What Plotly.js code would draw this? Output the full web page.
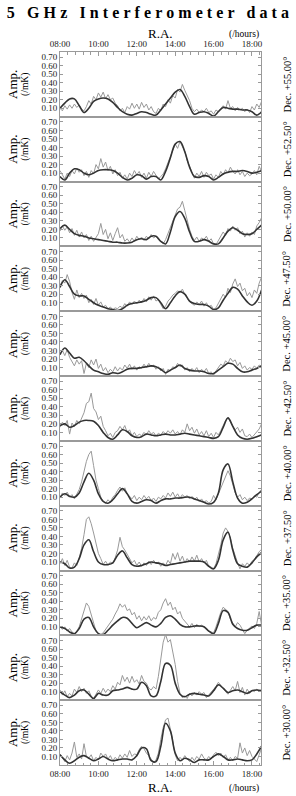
<!DOCTYPE html>
<html>
<head>
<meta charset="utf-8">
<script src="https://cdn.plot.ly/plotly-3.0.1.min.js"></script>
<style>
html,body{margin:0;padding:0;background:#fff;}
#chart{width:296px;height:796px;}
.gtitle{letter-spacing:4.1px;}
</style>
</head>
<body>
<div id="chart"></div>
<script>
// Sample times (hours of R.A.)
const tGray = [
8,8.125,8.25,8.375,8.5,8.625,8.75,8.875,
9,9.125,9.25,9.375,9.5,9.625,9.75,9.875,
10,10.125,10.25,10.375,10.5,10.625,10.75,10.875,
11,11.125,11.25,11.375,11.5,11.625,11.75,11.875,
12,12.125,12.25,12.375,12.5,12.625,12.75,12.875,
13,13.125,13.25,13.375,13.5,13.625,13.75,13.875,
14,14.125,14.25,14.375,14.5,14.625,14.75,14.875,
15,15.125,15.25,15.375,15.5,15.625,15.75,15.875,
16,16.125,16.25,16.375,16.5,16.625,16.75,16.875,
17,17.125,17.25,17.375,17.5,17.625,17.75,17.875,
18,18.125,18.25,18.375,18.5];
const tModel = [
8,8.25,8.5,8.75, 9,9.25,9.5,9.75, 10,10.25,10.5,10.75,
11,11.25,11.5,11.75, 12,12.25,12.5,12.75, 13,13.25,13.5,13.75,
14,14.25,14.5,14.75, 15,15.25,15.5,15.75, 16,16.25,16.5,16.75,
17,17.25,17.5,17.75, 18,18.25,18.5];

const raTickVals = [8,10,12,14,16,18];
const raTickText = ['08:00','10:00','12:00','14:00','16:00','18:00'];
const ampTickVals = [0.1,0.2,0.3,0.4,0.5,0.6,0.7];
const decLabels = ['Dec. +55.00°','Dec. +52.50°','Dec. +50.00°','Dec. +47.50°','Dec. +45.00°',
  'Dec. +42.50°','Dec. +40.00°','Dec. +37.50°','Dec. +35.00°','Dec. +32.50°','Dec. +30.00°'];

// Measured (grey) and model (dark) amplitudes, /mK
const data550 = [
0.10,0.07,0.13,0.09,0.14,0.10,0.15,0.11,
0.14,0.09,0.07,0.12,0.19,0.15,0.24,0.20,
0.28,0.23,0.29,0.21,0.26,0.20,0.22,0.16,
0.13,0.07,0.10,0.05,0.12,0.09,0.16,0.10,
0.15,0.09,0.17,0.11,0.15,0.08,0.12,0.06,
0.04,0.10,0.07,0.15,0.12,0.20,0.16,0.25,
0.22,0.32,0.29,0.38,0.31,0.25,0.19,0.10,
0.06,0.09,0.05,0.08,0.06,0.10,0.05,0.07,
0.03,0.08,0.06,0.10,0.13,0.09,0.19,0.10,
0.12,0.07,0.11,0.08,0.10,0.06,0.09,0.05,
0.12,0.08,0.15,0.11,0.18];
const model550 = [
0.10,0.16,0.21,0.21, 0.13,0.05,0.10,0.18, 0.21,0.22,0.21,0.17,
0.11,0.06,0.03,0.02, 0.04,0.06,0.05,0.03, 0.02,0.08,0.15,0.22,
0.29,0.32,0.24,0.12, 0.03,0.05,0.06,0.04, 0.01,0.06,0.11,0.10,
0.09,0.09,0.08,0.08, 0.06,0.02,0.06];

const data525 = [
0.13,0.07,0.03,0.10,0.06,0.13,0.09,0.16,
0.11,0.14,0.07,0.12,0.05,0.13,0.09,0.20,
0.15,0.27,0.17,0.23,0.13,0.18,0.09,0.14,
0.07,0.11,0.04,0.08,0.03,0.10,0.06,0.13,
0.08,0.12,0.05,0.10,0.04,0.11,0.06,0.12,
0.07,0.03,0.06,0.09,0.15,0.22,0.30,0.38,
0.44,0.39,0.47,0.41,0.36,0.25,0.18,0.10,
0.04,0.10,0.06,0.12,0.05,0.11,0.07,0.09,
0.03,0.08,0.05,0.12,0.08,0.14,0.10,0.17,
0.12,0.09,0.14,0.08,0.12,0.06,0.10,0.07,
0.09,0.13,0.08,0.18,0.12];
const model525 = [
0.06,0.02,0.10,0.15, 0.14,0.10,0.08,0.10, 0.13,0.14,0.14,0.13,
0.10,0.05,0.02,0.04, 0.08,0.07,0.03,0.06, 0.06,0.02,0.12,0.28,
0.44,0.47,0.35,0.17, 0.06,0.05,0.07,0.06, 0.02,0.05,0.09,0.11,
0.12,0.12,0.13,0.12, 0.10,0.11,0.13];

const data500 = [
0.18,0.24,0.19,0.23,0.16,0.21,0.13,0.19,
0.11,0.17,0.10,0.14,0.07,0.12,0.06,0.10,
0.15,0.27,0.14,0.20,0.09,0.16,0.07,0.15,
0.22,0.10,0.14,0.06,0.09,0.05,0.10,0.06,
0.12,0.08,0.11,0.07,0.12,0.09,0.14,0.10,
0.12,0.08,0.05,0.03,0.08,0.15,0.22,0.30,
0.37,0.44,0.46,0.53,0.42,0.30,0.20,0.12,
0.07,0.11,0.06,0.10,0.08,0.12,0.06,0.09,
0.03,0.02,0.07,0.12,0.17,0.13,0.21,0.18,
0.24,0.19,0.22,0.15,0.18,0.11,0.16,0.12,
0.17,0.14,0.24,0.28,0.34];
const model500 = [
0.21,0.25,0.20,0.15, 0.13,0.12,0.10,0.09, 0.08,0.07,0.06,0.05,
0.05,0.04,0.04,0.05, 0.08,0.09,0.08,0.12, 0.12,0.06,0.03,0.17,
0.35,0.41,0.33,0.17, 0.06,0.06,0.08,0.06, 0.03,0.03,0.10,0.18,
0.22,0.19,0.15,0.14, 0.15,0.20,0.25];

const data475 = [
0.30,0.36,0.33,0.43,0.35,0.22,0.14,0.25,
0.16,0.21,0.15,0.19,0.10,0.14,0.08,0.15,
0.07,0.11,0.05,0.07,0.03,0.05,0.02,0.04,
0.03,0.06,0.04,0.09,0.06,0.11,0.08,0.12,
0.09,0.13,0.10,0.15,0.11,0.17,0.13,0.18,
0.12,0.14,0.08,0.03,0.06,0.12,0.15,0.19,
0.21,0.24,0.22,0.26,0.20,0.15,0.11,0.09,
0.07,0.11,0.08,0.12,0.06,0.10,0.05,0.07,
0.02,0.04,0.09,0.14,0.20,0.16,0.27,0.22,
0.32,0.38,0.29,0.33,0.24,0.27,0.18,0.22,
0.16,0.25,0.21,0.33,0.40];
const model475 = [
0.28,0.37,0.29,0.20, 0.18,0.18,0.14,0.10, 0.07,0.05,0.03,0.02,
0.01,0.03,0.07,0.09, 0.10,0.11,0.13,0.16, 0.16,0.10,0.03,0.10,
0.18,0.23,0.20,0.12, 0.09,0.08,0.08,0.06, 0.02,0.04,0.13,0.21,
0.28,0.26,0.18,0.11, 0.07,0.12,0.25];

const data450 = [
0.26,0.30,0.24,0.31,0.22,0.17,0.12,0.19,
0.14,0.18,0.03,0.15,0.10,0.19,0.13,0.20,
0.09,0.14,0.06,0.10,0.04,0.08,0.05,0.11,
0.06,0.10,0.07,0.13,0.09,0.14,0.08,0.12,
0.07,0.11,0.09,0.14,0.10,0.15,0.11,0.13,
0.08,0.11,0.06,0.09,0.02,0.08,0.06,0.11,
0.09,0.15,0.11,0.13,0.07,0.10,0.05,0.09,
0.06,0.10,0.04,0.08,0.05,0.09,0.03,0.05,
0.01,0.06,0.10,0.14,0.12,0.18,0.15,0.21,
0.17,0.19,0.12,0.16,0.09,0.12,0.07,0.10,
0.08,0.12,0.09,0.13,0.11];
const model450 = [
0.25,0.33,0.27,0.21, 0.22,0.18,0.12,0.07, 0.05,0.03,0.02,0.04,
0.03,0.05,0.08,0.09, 0.09,0.10,0.11,0.12, 0.11,0.08,0.04,0.07,
0.10,0.13,0.09,0.07, 0.06,0.06,0.05,0.03, 0.03,0.07,0.11,0.15,
0.14,0.09,0.05,0.05, 0.07,0.09,0.12];

const data425 = [
0.16,0.22,0.18,0.24,0.08,0.21,0.17,0.24,
0.20,0.27,0.33,0.44,0.46,0.56,0.38,0.34,
0.25,0.29,0.17,0.12,0.06,0.09,0.04,0.10,
0.12,0.17,0.13,0.18,0.10,0.13,0.06,0.10,
0.05,0.08,0.06,0.10,0.07,0.12,0.08,0.10,
0.06,0.09,0.07,0.11,0.08,0.12,0.09,0.13,
0.08,0.11,0.07,0.13,0.10,0.20,0.12,0.16,
0.09,0.14,0.07,0.11,0.06,0.12,0.05,0.09,
0.04,0.10,0.07,0.12,0.18,0.24,0.27,0.22,
0.17,0.13,0.16,0.10,0.14,0.06,0.05,0.08,
0.04,0.07,0.10,0.14,0.20];
const model425 = [
0.18,0.20,0.16,0.18, 0.22,0.24,0.24,0.23, 0.18,0.10,0.04,0.02,
0.07,0.13,0.11,0.06, 0.04,0.05,0.08,0.07, 0.06,0.07,0.08,0.07,
0.07,0.08,0.09,0.08, 0.07,0.06,0.05,0.04, 0.03,0.05,0.16,0.27,
0.17,0.07,0.03,0.02, 0.03,0.05,0.07];

const data400 = [
0.09,0.15,0.12,0.16,0.10,0.13,0.08,0.14,
0.19,0.28,0.40,0.52,0.60,0.64,0.47,0.30,
0.20,0.10,0.05,0.03,0.07,0.04,0.10,0.13,
0.18,0.22,0.17,0.21,0.14,0.11,0.08,0.12,
0.06,0.10,0.07,0.12,0.08,0.11,0.06,0.09,
0.05,0.10,0.08,0.12,0.09,0.15,0.11,0.16,
0.10,0.14,0.09,0.13,0.10,0.12,0.08,0.11,
0.07,0.10,0.05,0.08,0.04,0.06,0.03,0.05,
0.12,0.07,0.14,0.22,0.29,0.36,0.41,0.35,
0.26,0.15,0.10,0.13,0.07,0.10,0.06,0.09,
0.08,0.12,0.10,0.16,0.19];
const model400 = [
0.10,0.14,0.11,0.10, 0.15,0.28,0.38,0.30, 0.14,0.05,0.03,0.07,
0.14,0.20,0.14,0.05, 0.03,0.05,0.07,0.06, 0.03,0.06,0.08,0.08,
0.09,0.09,0.10,0.10, 0.08,0.06,0.04,0.02, 0.04,0.15,0.42,0.49,
0.28,0.09,0.03,0.04, 0.08,0.13,0.17];

const data375 = [
0.08,0.14,0.06,0.12,0.04,0.03,0.09,0.06,
0.15,0.26,0.42,0.60,0.63,0.55,0.44,0.31,
0.20,0.14,0.07,0.11,0.06,0.10,0.08,0.15,
0.24,0.39,0.28,0.24,0.19,0.14,0.09,0.12,
0.06,0.10,0.05,0.09,0.06,0.11,0.07,0.12,
0.08,0.10,0.05,0.09,0.06,0.12,0.08,0.20,
0.13,0.21,0.11,0.17,0.09,0.14,0.10,0.16,
0.11,0.18,0.10,0.14,0.09,0.12,0.05,0.04,
0.02,0.08,0.18,0.30,0.44,0.50,0.46,0.38,
0.26,0.16,0.09,0.02,0.08,0.05,0.09,0.06,
0.11,0.13,0.18,0.22,0.25];
const model375 = [
0.10,0.08,0.03,0.04, 0.14,0.30,0.36,0.22, 0.10,0.07,0.07,0.09,
0.18,0.23,0.15,0.07, 0.05,0.06,0.08,0.10, 0.09,0.08,0.06,0.07,
0.08,0.09,0.10,0.11, 0.11,0.11,0.10,0.05, 0.02,0.12,0.36,0.45,
0.24,0.08,0.05,0.04, 0.09,0.16,0.21];

const data350 = [
0.11,0.07,0.10,0.05,0.08,0.04,0.02,0.05,
0.10,0.19,0.30,0.38,0.34,0.24,0.13,0.05,
0.02,0.01,0.03,0.07,0.10,0.14,0.19,0.25,
0.30,0.37,0.33,0.36,0.29,0.31,0.24,0.27,
0.19,0.23,0.17,0.22,0.18,0.23,0.17,0.21,
0.19,0.27,0.30,0.38,0.43,0.35,0.39,0.30,
0.33,0.25,0.28,0.20,0.17,0.13,0.10,0.14,
0.09,0.13,0.10,0.12,0.09,0.07,0.05,0.04,
0.03,0.10,0.20,0.27,0.33,0.31,0.28,0.19,
0.14,0.10,0.15,0.12,0.07,0.02,0.06,0.09,
0.11,0.08,0.14,0.28,0.12];
const model350 = [
0.10,0.08,0.04,0.02, 0.08,0.19,0.21,0.10, 0.02,0.01,0.06,0.12,
0.17,0.21,0.20,0.14, 0.09,0.12,0.15,0.12, 0.10,0.14,0.21,0.23,
0.19,0.13,0.10,0.10, 0.11,0.11,0.10,0.05, 0.02,0.14,0.29,0.27,
0.13,0.08,0.06,0.06, 0.09,0.12,0.12];

const data325 = [
0.12,0.06,0.11,0.04,0.08,0.05,0.13,0.09,
0.16,0.10,0.14,0.08,0.11,0.05,0.02,0.07,
0.12,0.08,0.14,0.09,0.13,0.10,0.17,0.13,
0.21,0.18,0.29,0.22,0.27,0.20,0.28,0.21,
0.24,0.19,0.29,0.22,0.20,0.14,0.12,0.16,
0.13,0.28,0.50,0.68,0.77,0.68,0.71,0.56,
0.42,0.22,0.08,0.03,0.05,0.02,0.08,0.05,
0.09,0.06,0.10,0.07,0.09,0.03,0.06,0.09,
0.13,0.16,0.21,0.17,0.14,0.10,0.07,0.12,
0.16,0.11,0.22,0.09,0.15,0.06,0.13,0.08,
0.12,0.10,0.13,0.11,0.12];
const model325 = [
0.10,0.06,0.03,0.06, 0.11,0.12,0.07,0.02, 0.08,0.06,0.06,0.11,
0.12,0.13,0.15,0.13, 0.13,0.21,0.17,0.05, 0.05,0.22,0.43,0.41,
0.20,0.07,0.04,0.07, 0.08,0.07,0.06,0.05, 0.11,0.18,0.14,0.09,
0.11,0.12,0.10,0.08, 0.11,0.12,0.11];

const data300 = [
0.13,0.08,0.04,0.11,0.06,0.14,0.27,0.09,
0.13,0.07,0.25,0.10,0.08,0.12,0.05,0.09,
0.06,0.14,0.10,0.13,0.07,0.11,0.05,0.09,
0.06,0.12,0.08,0.13,0.09,0.17,0.10,0.13,
0.12,0.18,0.22,0.19,0.14,0.11,0.07,0.03,
0.06,0.14,0.30,0.44,0.53,0.55,0.42,0.25,
0.12,0.05,0.09,0.06,0.11,0.07,0.04,0.09,
0.05,0.10,0.07,0.13,0.08,0.06,0.10,0.07,
0.12,0.15,0.11,0.14,0.09,0.12,0.06,0.09,
0.05,0.10,0.08,0.26,0.14,0.20,0.11,0.17,
0.10,0.07,0.04,0.12,0.20];
const model300 = [
0.12,0.06,0.02,0.05, 0.09,0.11,0.08,0.05, 0.07,0.10,0.07,0.05,
0.06,0.07,0.07,0.06, 0.11,0.20,0.19,0.05, 0.04,0.22,0.49,0.40,
0.14,0.05,0.08,0.06, 0.03,0.06,0.06,0.06, 0.10,0.13,0.10,0.06,
0.06,0.07,0.06,0.05, 0.06,0.13,0.22];

const measured = [data550,data525,data500,data475,data450,data425,data400,data375,data350,data325,data300];
const models = [model550,model525,model500,model475,model450,model425,model400,model375,model350,model325,model300];

const N = decLabels.length;
const L = 60, R = 35, T = 52, B = 31, W = 296, H = 796;
const pw = W - L - R, ph = H - T - B;
const px = v => (v - L) / pw;
const py = v => (H - B - v) / ph;
const serif = 'Liberation Serif, Times New Roman, serif';
const axisColor = '#9a9a9a';

const traces = [];
const layout = {
  width: W, height: H,
  margin: {l: L, r: R, t: T, b: B, pad: 0},
  paper_bgcolor: '#fff', plot_bgcolor: '#fff',
  showlegend: false,
  title: {text: '5 GHz Interferometer data', font: {family: serif, size: 16, weight: 'bold', color: '#000'},
          x: 0.5 + 2 / W, xref: 'container', xanchor: 'center', y: 1 - 12 / H, yref: 'container', yanchor: 'middle'},
  annotations: []
};

for (let i = 0; i < N; i++) {
  const s = i === 0 ? '' : String(i + 1);
  traces.push({type: 'scatter', mode: 'lines', x: tGray, y: measured[i], xaxis: 'x' + s, yaxis: 'y' + s,
    line: {color: '#999999', width: 1}, hoverinfo: 'skip'});
  traces.push({type: 'scatter', mode: 'lines', x: tModel, y: models[i], xaxis: 'x' + s, yaxis: 'y' + s,
    line: {color: '#333333', width: 1.6, shape: 'spline', smoothing: 1}, hoverinfo: 'skip'});
  const top = 1 - i / N, bot = 1 - (i + 1) / N;
  const isTop = i === 0, isBot = i === N - 1;
  const edge = isTop || isBot;
  layout['xaxis' + s] = {
    domain: [0, 1], range: [8, 18.47], anchor: 'y' + s,
    side: isTop ? 'top' : 'bottom',
    showline: true, linecolor: axisColor, linewidth: 1, mirror: true,
    showgrid: false, zeroline: false,
    tickmode: 'array', tickvals: raTickVals, ticktext: raTickText,
    showticklabels: edge,
    ticks: edge ? 'inside' : '', ticklen: 4, tickcolor: axisColor,
    minor: edge ? {dtick: 0.4, tick0: 8, ticks: 'inside', ticklen: 2.5, tickcolor: axisColor} : undefined,
    tickfont: {family: serif, size: 9, color: '#222'}
  };
  layout['yaxis' + s] = {
    domain: [bot, top], range: [0, 0.76], anchor: 'x' + s,
    showline: true, linecolor: axisColor, linewidth: 1, mirror: 'ticks',
    showgrid: false, zeroline: false,
    tickmode: 'array', tickvals: ampTickVals, tickformat: '.2f',
    ticks: 'inside', ticklen: 3, tickcolor: axisColor,
    tickfont: {family: serif, size: 9, color: '#222'}
  };
  const yc = 1 - (i + 0.5) / N;
  layout.annotations.push({text: 'Amp.', xref: 'paper', yref: 'paper', x: px(12.5), y: yc,
    xanchor: 'center', yanchor: 'middle', textangle: -90, showarrow: false,
    font: {family: serif, size: 13, color: '#000'}});
  layout.annotations.push({text: '(/mK)', xref: 'paper', yref: 'paper', x: px(25.5), y: yc,
    xanchor: 'center', yanchor: 'middle', textangle: -90, showarrow: false,
    font: {family: serif, size: 9.5, color: '#000'}});
  layout.annotations.push({text: decLabels[i], xref: 'paper', yref: 'paper', x: px(287), y: yc,
    xanchor: 'center', yanchor: 'middle', textangle: -90, showarrow: false,
    font: {family: serif, size: 10.5, color: '#000'}});
}

layout.annotations.push({text: 'R.A.', xref: 'paper', yref: 'paper', x: 0.5, y: py(34),
  xanchor: 'center', yanchor: 'middle', showarrow: false, font: {family: serif, size: 13, color: '#000'}});
layout.annotations.push({text: '(/hours)', xref: 'paper', yref: 'paper', x: 1, y: py(35),
  xanchor: 'right', yanchor: 'middle', showarrow: false, font: {family: serif, size: 9.5, color: '#000'}});
layout.annotations.push({text: 'R.A.', xref: 'paper', yref: 'paper', x: 0.5, y: py(787),
  xanchor: 'center', yanchor: 'middle', showarrow: false, font: {family: serif, size: 13, color: '#000'}});
layout.annotations.push({text: '(/hours)', xref: 'paper', yref: 'paper', x: 1, y: py(788),
  xanchor: 'right', yanchor: 'middle', showarrow: false, font: {family: serif, size: 9.5, color: '#000'}});

Plotly.newPlot('chart', traces, layout, {displayModeBar: false, staticPlot: true});
</script>
</body>
</html>
